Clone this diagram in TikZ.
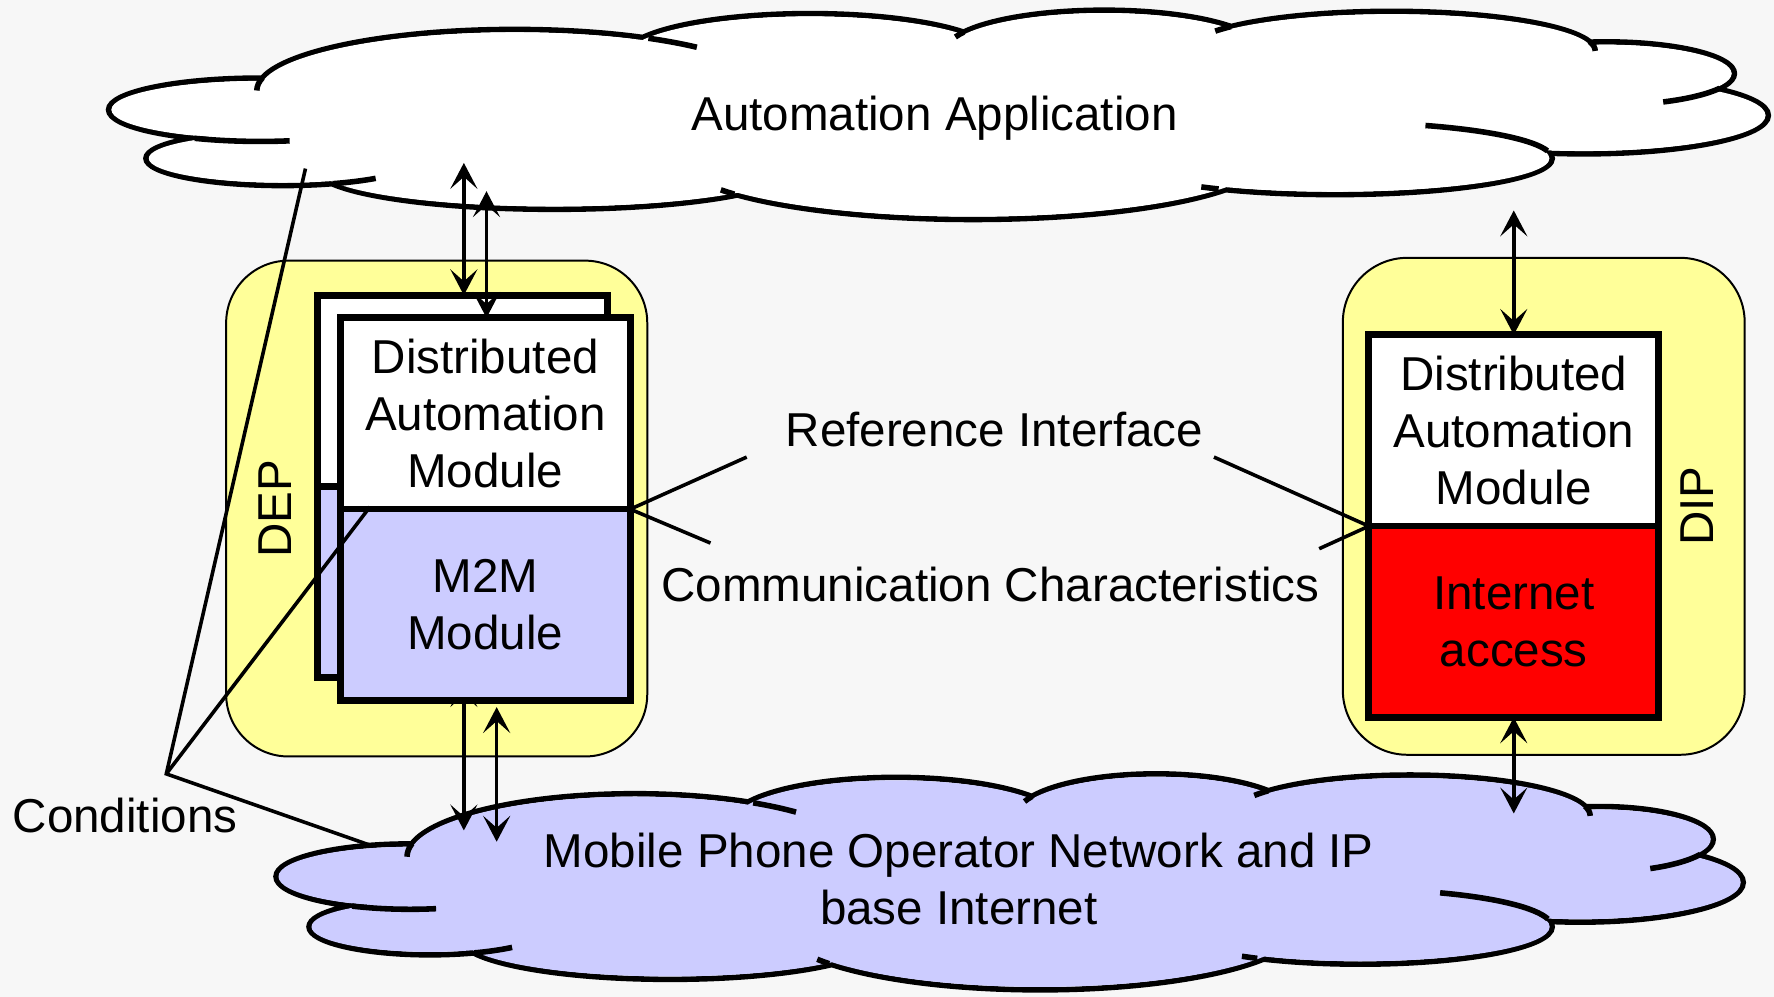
\documentclass[tikz,border=0pt]{standalone}
\usepackage{fontspec}
\setmainfont{Liberation Sans}
\usetikzlibrary{arrows.meta}
\definecolor{paper}{RGB}{247,247,247}
\definecolor{padyellow}{RGB}{255,255,153}
\definecolor{netblue}{RGB}{204,204,255}
\newcommand\diagfont{\fontsize{11.95pt}{14.37pt}\selectfont}
\newcommand\cloudlobes{(230,97) ellipse [x radius=134, y radius=28]
  (250,140) ellipse [x radius=121, y radius=24]
  (490,150) ellipse [x radius=210, y radius=35]
  (860,140) ellipse [x radius=260, y radius=54]
  (1180,140) ellipse [x radius=192, y radius=32]
  (1400,102) ellipse [x radius=163, y radius=34]
  (1420,65) ellipse [x radius=113, y radius=28]
  (1230,45) ellipse [x radius=180, y radius=35]
  (976,45) ellipse [x radius=140, y radius=36]
  (716,50) ellipse [x radius=165, y radius=38]
  (455,80) ellipse [x radius=228, y radius=54]}
\newcommand\cloudinner{(230,97) ellipse [x radius=131.5, y radius=25.5]
  (250,140) ellipse [x radius=118.5, y radius=21.5]
  (490,150) ellipse [x radius=207.5, y radius=32.5]
  (860,140) ellipse [x radius=257.5, y radius=51.5]
  (1180,140) ellipse [x radius=189.5, y radius=29.5]
  (1400,102) ellipse [x radius=160.5, y radius=31.5]
  (1420,65) ellipse [x radius=110.5, y radius=25.5]
  (1230,45) ellipse [x radius=177.5, y radius=32.5]
  (976,45) ellipse [x radius=137.5, y radius=33.5]
  (716,50) ellipse [x radius=162.5, y radius=35.5]
  (455,80) ellipse [x radius=225.5, y radius=51.5]}
\newcommand\cloudstubs{(230,97) ++(115.6:134 and 28) arc [start angle=115.6, end angle=78.8, x radius=134, y radius=28]
  (250,140) ++(68.7:121 and 24) arc [start angle=68.7, end angle=47.3, x radius=121, y radius=24]
  (455,80) ++(-58.8:228 and 54) arc [start angle=-58.8, end angle=-45.1, x radius=228, y radius=54]
  (455,80) ++(-168:228 and 54) arc [start angle=-168, end angle=-180, x radius=228, y radius=54]
  (860,140) ++(144.2:260 and 54) arc [start angle=144.2, end angle=149, x radius=260, y radius=54]
  (976,45) ++(-152.4:140 and 36) arc [start angle=-152.4, end angle=-160, x radius=140, y radius=36]
  (1230,45) ++(-142.1:180 and 35) arc [start angle=-142.1, end angle=-150, x radius=180, y radius=35]
  (1230,45) ++(-13.5:180 and 35) arc [start angle=-13.5, end angle=0, x radius=180, y radius=35]
  (1420,65) ++(27.7:113 and 28) arc [start angle=27.7, end angle=63.7, x radius=113, y radius=28]
  (1180,140) ++(-65.4:192 and 32) arc [start angle=-65.4, end angle=-12, x radius=192, y radius=32]
  (1180,140) ++(122.4:192 and 32) arc [start angle=122.4, end angle=128, x radius=192, y radius=32]}
\tikzset{
  cloudline/.style={line width=1.4pt},
  pad/.style={draw, line width=0.5pt, fill=padyellow, rounded corners=0.55cm, inner sep=0},
  modbox/.style={draw, line width=0.06cm, minimum width=2.56cm, minimum height=1.69cm, inner sep=0, outer sep=0, align=center, font=\diagfont},
  txt/.style={font=\diagfont, inner sep=0, align=center},
  biarrow/.style={line width=0.9pt, <->, >={Stealth[length=6.5pt, width=6.8pt, inset=3pt]}},
  pointer/.style={line width=0.9pt}
}
\begin{document}
\begin{tikzpicture}[x=0.01cm, y=-0.01cm]
\fill[paper] (0,0) rectangle (1568,881);
\useasboundingbox (0,0) rectangle (1568,881);

\draw[cloudline] \cloudlobes;
\fill[white] \cloudinner;
\fill[white] (250,60) rectangle (1400,130);
\draw[cloudline] \cloudstubs;

\begin{scope}[shift={(159.1,674.7)}, xscale=0.884, yscale=1.032]
\draw[cloudline] \cloudlobes;
\fill[netblue] \cloudinner;
\fill[netblue] (250,60) rectangle (1400,130);
\draw[cloudline] \cloudstubs;
\end{scope}

\node[pad, minimum width=3.72cm, minimum height=4.38cm] (deppad) at (386,449.5) {};
\node[pad, minimum width=3.55cm, minimum height=4.39cm, rounded corners=0.57cm] (dippad) at (1364.5,447.5) {};
\node[txt, rotate=90] (dep) at (243.5,449.5) {DEP};
\node[txt, rotate=90] (dip) at (1500,447.5) {DIP};

\coordinate (a3top) at (410,602);
\coordinate (a3bot) at (410,734);
\draw[biarrow] (a3top) -- (a3bot);

\node[modbox, fill=white] (dam0) at (409,345.5) {};
\node[modbox, fill=netblue] (m2m0) at (409,514.5) {};
\node[modbox, fill=white] (dam1) at (429,365.5) {Distributed\\Automation\\Module};
\node[modbox, fill=netblue] (m2m1) at (429,534.5) {M2M\\Module};
\node[modbox, fill=white] (dam2) at (1338,380.5) {Distributed\\Automation\\Module};
\node[modbox, fill=red] (inet) at (1338,549.5) {Internet\\access};

\node[txt, anchor=base] (app) at (826,115) {Automation Application};
\node[txt] (net) at (847.5,777) {Mobile Phone Operator Network and IP\\base Internet};
\node[txt, anchor=base] (refif) at (879,395) {Reference Interface};
\node[txt, anchor=base] (comm) at (875.5,532) {Communication Characteristics};
\node[txt, anchor=base] (cond) at (110.5,736) {Conditions};

\coordinate (a1top) at (410,144);
\coordinate (a2top) at (430,169);
\coordinate (a4top) at (439,625);
\coordinate (a4bot) at (439,744);
\coordinate (a5top) at (1338,186);
\coordinate (a6bot) at (1338,719);
\draw[biarrow] (a1top) -- (a1top |- dam0.north);
\draw[biarrow] (a2top) -- (a2top |- dam1.north);
\draw[biarrow] (a4top) -- (a4bot);
\draw[biarrow] (a5top) -- (a5top |- dam2.north);
\draw[biarrow] (a6bot |- inet.south) -- (a6bot);

\coordinate (riL) at (660,404);
\coordinate (riR) at (1073,404);
\coordinate (ccL) at (628,480);
\coordinate (ccR) at (1166,485);
\draw[pointer] (riL) -- (dam1.south east) -- (ccL);
\draw[pointer] (riR) -- (dam2.south west) -- (ccR);

\coordinate (cndtip) at (147,684);
\coordinate (c1) at (270,149);
\coordinate (c2) at (327,448);
\coordinate (c3) at (327,747);
\draw[pointer] (c1) -- (cndtip) -- (c3);
\draw[pointer] (cndtip) -- (c2);
\end{tikzpicture}
\end{document}
